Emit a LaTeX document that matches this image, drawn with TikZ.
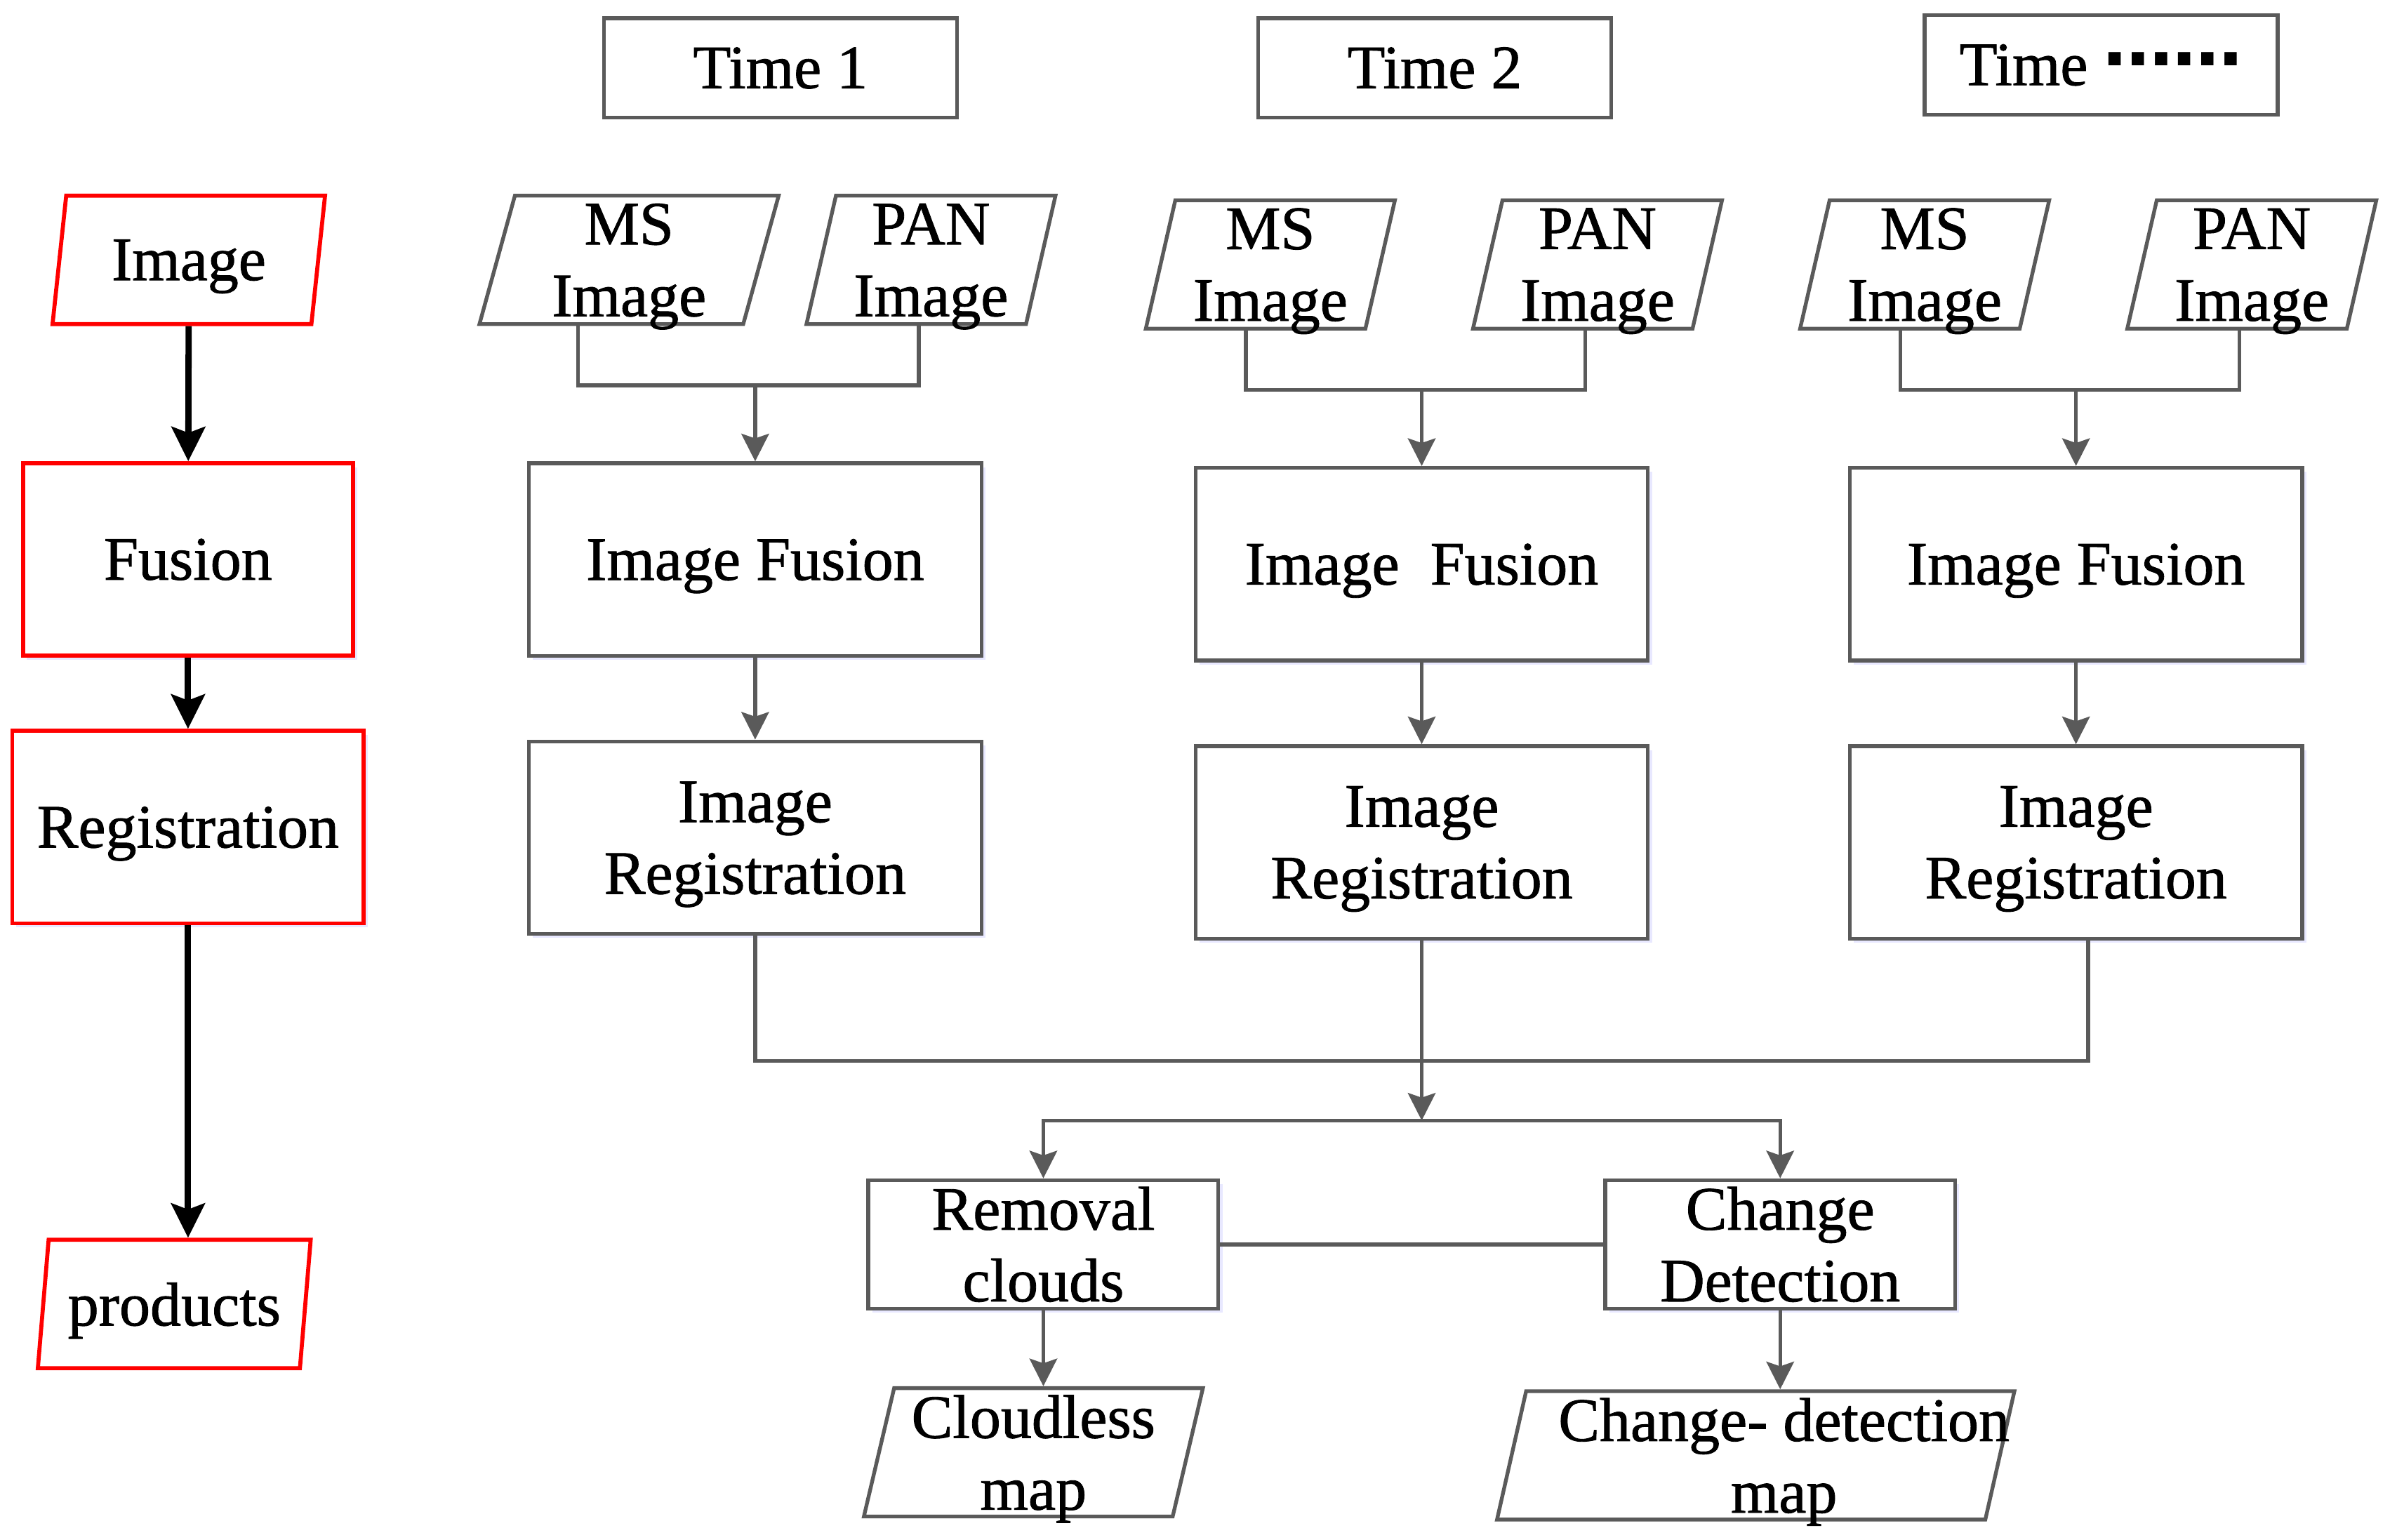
\documentclass[tikz,border=0pt]{standalone}
\usepackage{fontspec}
\setmainfont{Liberation Serif}[FakeBold=1.0]
\newfontfamily\dotfont{DejaVu Sans}
\usepackage{tikz}
\usetikzlibrary{arrows.meta,shapes.geometric,positioning,calc,shadows}
\definecolor{linegray}{RGB}{90,90,90}
\newcommand{\nodesc}[1]{\raisebox{0pt}[\height][0pt]{#1}}

\begin{document}
\begin{tikzpicture}[x=0.02cm, y=-0.02cm,
    font=\fontsize{23}{26.7}\selectfont,
    glow/.style={drop shadow={shadow xshift=1.5pt, shadow yshift=-1.5pt, fill=blue!30, opacity=0.3}},
    redbox/.style={draw=red, line width=1.5pt, fill=white, glow, align=center, inner sep=0pt, minimum height=2.52cm},
    redpar/.style={trapezium, trapezium left angle=78, trapezium right angle=102, trapezium stretches=true, draw=red, line width=1.5pt, fill=white, align=center, inner sep=0pt, minimum width=3.58cm, minimum height=1.68cm},
    timebox/.style={draw=linegray, line width=1.4pt, fill=white, align=center, inner sep=0pt, minimum width=4.62cm, minimum height=1.3cm},
    datapar/.style={trapezium, trapezium left angle=78, trapezium right angle=102, trapezium stretches=true, draw=linegray, line width=1.4pt, fill=white, align=center, inner sep=0pt, minimum width=3.28cm, minimum height=1.68cm},
    stepbox/.style={draw=linegray, line width=1.4pt, fill=white, glow, align=center, inner sep=0pt, minimum width=5.92cm, minimum height=2.52cm},
    outbox/.style={draw=linegray, line width=1.4pt, fill=white, glow, align=center, inner sep=0pt, minimum width=4.58cm, minimum height=1.68cm},
    ln/.style={draw=linegray, line width=1.4pt},
    arr/.style={ln, -{Stealth[length=0.36cm, width=0.36cm, inset=0.06cm]}},
    blk/.style={draw=black, line width=2.3pt, -{Stealth[length=0.45cm, width=0.44cm, inset=0.08cm]}}
]
\useasboundingbox (0,0) rectangle (1568,1007);

\node[redpar] (img) at (123.5,170) {\nodesc{Image}};
\node[redbox, minimum width=4.32cm] (fus) at (123,366) {Fusion};
\node[redbox, minimum width=4.6cm] (reg) at (123,541) {\nodesc{Registration}};
\node[redpar] (prod) at (114,853) {\nodesc{products}};

\node[timebox] (t1) at (510.5,44.5) {Time 1};
\node[timebox] (t2) at (938.5,44.5) {Time 2};
\node[timebox] (t3) at (1374.5,42.5) {Time \raisebox{0.32em}{\dotfont\bfseries\fontsize{26}{26}\selectfont ……}};

\node[datapar, minimum width=3.94cm] (ms1) at (411.5,170) {MS\\\nodesc{Image}};
\node[datapar] (pan1) at (609,170) {PAN\\\nodesc{Image}};
\node[datapar] (ms2) at (831,173) {MS\\\nodesc{Image}};
\node[datapar] (pan2) at (1045,173) {PAN\\\nodesc{Image}};
\node[datapar] (ms3) at (1259,173) {MS\\\nodesc{Image}};
\node[datapar] (pan3) at (1473,173) {PAN\\\nodesc{Image}};

\node[stepbox] (fus1) at (494,366) {\nodesc{Image Fusion}};
\node[stepbox] (reg1) at (494,548) {Image\\\nodesc{Registration}};
\node[stepbox] (fus2) at (930,369) {\nodesc{Image\ \ Fusion}};
\node[stepbox] (reg2) at (930,551) {Image\\\nodesc{Registration}};
\node[stepbox] (fus3) at (1358,369) {\nodesc{Image Fusion}};
\node[stepbox] (reg3) at (1358,551) {Image\\\nodesc{Registration}};

\node[outbox] (rem) at (682.5,814) {Removal\\clouds};
\node[outbox] (chg) at (1164.5,814) {Change\\Detection};
\node[datapar, minimum width=4.44cm, trapezium left angle=77, trapezium right angle=103] (cloud) at (676,950) {Cloudless\\\nodesc{map}};
\node[datapar, minimum width=6.78cm, trapezium left angle=76, trapezium right angle=104] (cdmap) at (1148.5,952)
    {\makebox[5.9cm]{\hspace{0.74cm}Change- detection}\\\makebox[5.9cm]{\hspace{0.74cm}\nodesc{map}}};

\draw[blk] (img) -- (fus);
\draw[blk] (fus) -- (reg);
\draw[blk] (reg) -- (reg |- prod.north);

\coordinate (j1) at (494,252);
\coordinate (j2) at (930,255);
\coordinate (j3) at (1358,255);
\draw[ln] ($(ms1.south)+(-33.5,0)$) |- (j1) -| ($(pan1.south)+(-8,0)$);
\draw[ln] ($(ms2.south)+(-16,0)$) |- (j2) -| ($(pan2.south)+(-8,0)$);
\draw[ln] ($(ms3.south)+(-16,0)$) |- (j3) -| ($(pan3.south)+(-8,0)$);
\draw[arr] (j1) -- (fus1);
\draw[arr] (j2) -- (fus2);
\draw[arr] (j3) -- (fus3);
\draw[arr] (fus1) -- (reg1);
\draw[arr] (fus2) -- (reg2);
\draw[arr] (fus3) -- (reg3);

\coordinate (bus) at (930,694);
\coordinate (split) at (930,733);
\draw[ln] (reg1.south) |- (bus) -| ($(reg3.south)+(8,0)$);
\draw[arr] (reg2) -- (split);
\draw[arr] (split) -| (rem);
\draw[arr] (split) -| (chg);
\draw[ln] (rem) -- (chg);
\draw[arr] (rem) -- (rem |- cloud.north);
\draw[arr] (chg) -- (chg |- cdmap.north);
\end{tikzpicture}
\end{document}
